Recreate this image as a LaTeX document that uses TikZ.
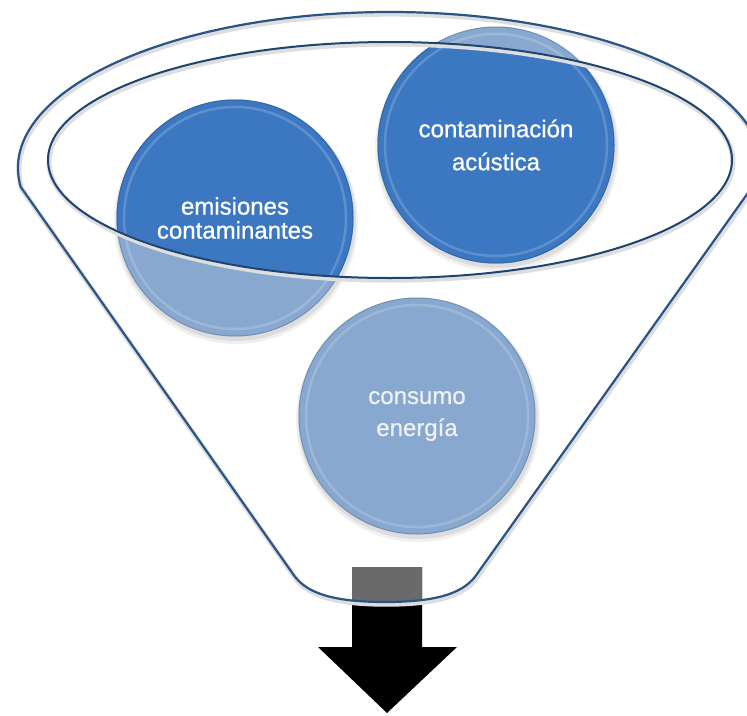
\documentclass[tikz,border=0pt]{standalone}
\usepackage{fontspec}
\setmainfont{Liberation Sans}
\newfontfamily\bubblefont[FakeBold=0.8]{Liberation Sans}
\pgfdeclarelayer{bg}
\pgfsetlayers{bg,main}
\definecolor{darkblue}{HTML}{3C78C2}
\definecolor{lightblue}{HTML}{88A8D0}
\definecolor{rimline}{HTML}{2A5583}
\definecolor{innerline}{HTML}{1F4470}
\definecolor{arrowgray}{HTML}{6A6A6A}
\definecolor{softtext}{HTML}{EEF0F3}
\tikzset{
  bubble/.style={circle, minimum size=237pt, inner sep=0pt, align=center, text=white},
  rimshadow/.style={draw=black!13, line width=5pt, shift={(1,2.2)}},
  rim/.style={draw=rimline, line width=2.2pt},
  innerrim/.style={draw=innerline, line width=2pt},
}
\def\funnelpath{(20.77,187.01) arc[start angle=173, end angle=362, x radius=372, y radius=156] -- (477,574) .. controls (465,592) and (440,602) .. (385,602) .. controls (330,602) and (305,592) .. (293,574) -- cycle}
\def\arrowpath{(352,567) -- (422,567) -- (422,647) -- (457,647) -- (387,713) -- (318,647) -- (352,647) -- cycle}
\begin{document}
\begin{tikzpicture}[x=1pt,y=-1pt]
\useasboundingbox (0,0) rectangle (747,715);
\clip (0,0) rectangle (747,715);

% bubbles (text on main layer)
\node[bubble, font=\bubblefont\fontsize{24}{24}\selectfont] (emis) at (235,218) {emisiones\\contaminantes};
\node[bubble, font=\bubblefont\fontsize{24}{33}\selectfont] (acou) at (496,145) {contaminación\\acústica};
\node[bubble, font=\bubblefont\fontsize{24}{32}\selectfont, text=softtext] (cons) at (417,416) {consumo\\energía};

\begin{pgfonlayer}{bg}
  % soft shadows
  \foreach \n in {emis,acou,cons} {
    \fill[black, opacity=.06] ([shift={(1,4)}]\n.center) circle[radius=122];
    \fill[black, opacity=.08] ([shift={(1,3)}]\n.center) circle[radius=120];
  }
  % light fills
  \foreach \n in {emis,acou,cons} \fill[lightblue] (\n.center) circle[radius=118.5];
  % dark parts inside the inner ellipse
  \begin{scope}
    \clip (390,160) ellipse[x radius=342, y radius=118];
    \foreach \n in {emis,acou} \fill[darkblue] (\n.center) circle[radius=118.5];
  \end{scope}
  % bevel rings
  \foreach \n in {emis,acou,cons} {
    \draw[white, opacity=.18, line width=2.5pt] (\n.center) circle[radius=111];
    \draw[black, opacity=.15, line width=1pt] (\n.center) circle[radius=118];
  }
  % arrow
  \fill[black] \arrowpath;
  \begin{scope}
    \clip \funnelpath;
    \fill[arrowgray] \arrowpath;
  \end{scope}
\end{pgfonlayer}

% funnel outlines
\draw[rimshadow] \funnelpath;
\draw[rim] \funnelpath;
\draw[rimshadow] (390,160) ellipse[x radius=342, y radius=118];
\draw[innerrim] (390,160) ellipse[x radius=342, y radius=118];
\end{tikzpicture}
\end{document}
